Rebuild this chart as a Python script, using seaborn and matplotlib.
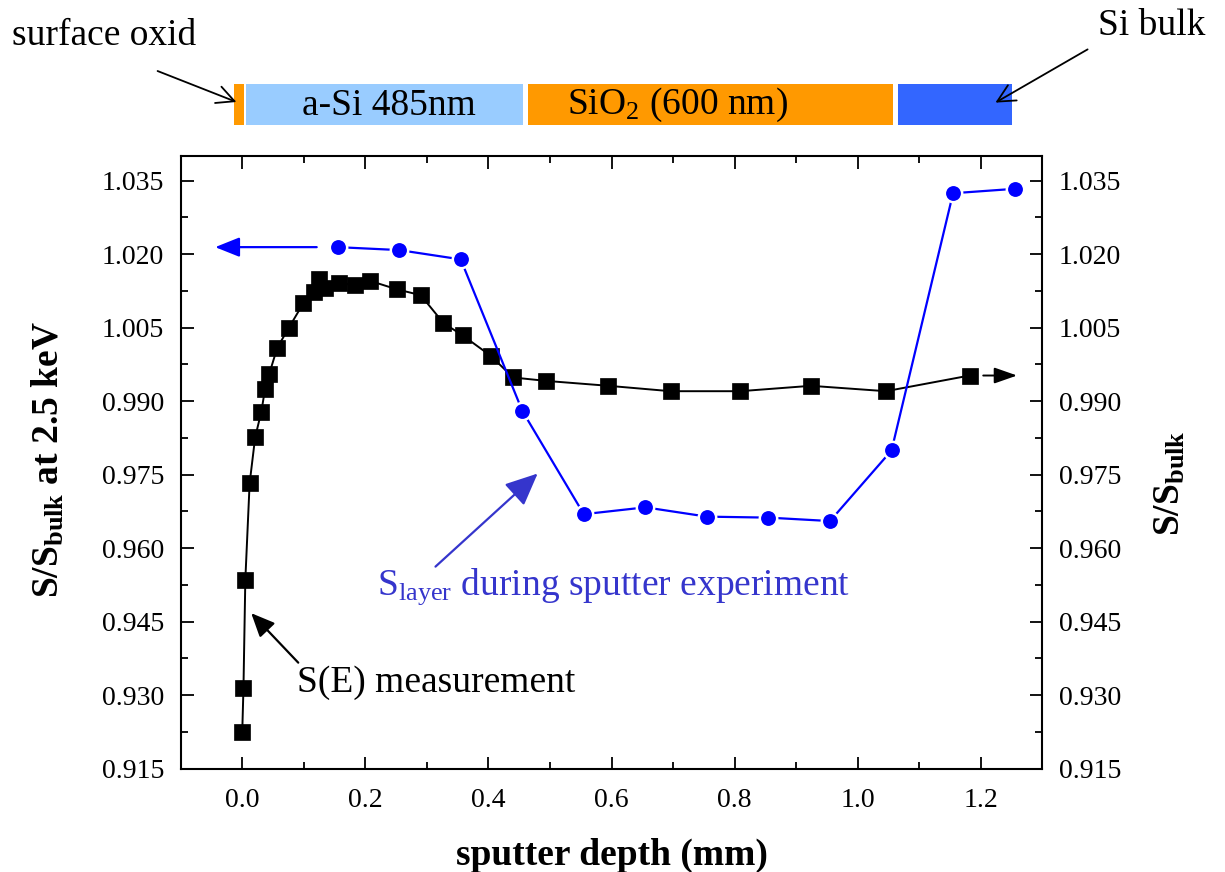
import numpy as np
import matplotlib
matplotlib.use("Agg")
import matplotlib.pyplot as plt
from matplotlib.ticker import MultipleLocator, FormatStrFormatter
import seaborn as sns

# S(E) measurement: sputter depth (µm) vs. normalised S parameter
se_depth = [0.000, 0.002, 0.005, 0.012, 0.021, 0.031, 0.037, 0.044, 0.057, 0.076,
            0.099, 0.117, 0.125, 0.135, 0.158, 0.183, 0.208, 0.251, 0.290, 0.327,
            0.358, 0.404, 0.440, 0.494, 0.595, 0.696, 0.809, 0.924, 1.046, 1.182]
se_value = [0.9224, 0.9315, 0.9535, 0.9732, 0.9826, 0.9878, 0.9924, 0.9956, 1.0009, 1.0050,
            1.0099, 1.0123, 1.0149, 1.0130, 1.0140, 1.0137, 1.0145, 1.0128, 1.0116, 1.0059,
            1.0034, 0.9992, 0.9948, 0.9941, 0.9931, 0.9920, 0.9920, 0.9931, 0.9920, 0.9952]

# S of each layer during the sputter experiment
layer_depth = [0.155, 0.255, 0.355, 0.455, 0.555, 0.655, 0.755, 0.855, 0.955, 1.055, 1.155, 1.255]
layer_value = [1.0214, 1.0208, 1.0189, 0.9880, 0.9669, 0.9683, 0.9664, 0.9662, 0.9655, 0.9799,
               1.0324, 1.0333]

# sample layer stack (µm)
stack_names = ["surface oxid", "a-Si", "SiO2", "Si bulk"]
stack_start = [-0.013, 0.006, 0.464, 1.066]
stack_end = [0.003, 0.457, 1.058, 1.250]
stack_colors = ["#FF9900", "#99CCFF", "#FF9900", "#3366FF"]

y_ticks = [0.915, 0.930, 0.945, 0.960, 0.975, 0.990, 1.005, 1.020, 1.035]
x_ticks = [0.0, 0.2, 0.4, 0.6, 0.8, 1.0, 1.2]

sns.set_theme(style="ticks")
plt.rcParams["font.family"] = ["Liberation Serif", "DejaVu Serif"]
plt.rcParams["mathtext.fontset"] = "custom"
plt.rcParams["mathtext.rm"] = "Liberation Serif"
plt.rcParams["mathtext.it"] = "Liberation Serif:italic"
plt.rcParams["mathtext.bf"] = "Liberation Serif:bold"
plt.rcParams["mathtext.default"] = "regular"
plt.rcParams["text.color"] = "black"
plt.rcParams["axes.labelcolor"] = "black"
plt.rcParams["xtick.color"] = "black"
plt.rcParams["ytick.color"] = "black"

W, H = 1225, 872
fig = plt.figure(figsize=(W / 100, H / 100), dpi=100)
fig.patch.set_facecolor("white")


def fx(px):
    return px / W


def fy(py):
    return 1 - py / H


ax = fig.add_axes([fx(180.7), fy(768.5), (1042.3 - 180.7) / W, (768.5 - 156) / H])
ax.set_facecolor("white")

# S(E) curve (black squares)
sns.lineplot(x=se_depth, y=se_value, ax=ax, color="black", linewidth=1.4,
             marker="s", markersize=11, markeredgecolor="black",
             markeredgewidth=0.5, zorder=3)
# S_layer curve (blue circles)
sns.lineplot(x=layer_depth, y=layer_value, ax=ax, color="#0000FF", linewidth=1.6,
             marker="o", markersize=12.5, markeredgecolor="white",
             markeredgewidth=1.8, zorder=4)

ax.set_xlim(-0.1, 1.3)
ax.set_ylim(0.915, 1.040)
ax.set_xticks(x_ticks)
ax.set_yticks(y_ticks)
ax.xaxis.set_minor_locator(MultipleLocator(0.1))
ax.yaxis.set_minor_locator(MultipleLocator(0.0075))
ax.xaxis.set_major_formatter(FormatStrFormatter("%.1f"))
ax.yaxis.set_major_formatter(FormatStrFormatter("%.3f"))
ax.tick_params(which="both", direction="in", top=True, right=True,
               labelright=True, width=1.3, colors="black", labelcolor="black")
ax.tick_params(which="major", length=9, labelsize=20)
ax.tick_params(axis="x", which="major", pad=14)
ax.tick_params(axis="y", which="major", pad=12)
ax.tick_params(which="minor", length=5)
for sp in ax.spines.values():
    sp.set_visible(True)
    sp.set_linewidth(1.5)
    sp.set_color("black")

ax.set_xlabel("sputter depth (mm)", fontsize=27, fontweight="bold", color="black")
ax.xaxis.set_label_coords(0.5, -0.113)
ax.set_ylabel("S/S$_{bulk}$ at 2.5 keV", fontsize=27, fontweight="bold", color="black")
ax.yaxis.set_label_coords(-0.133, 0.505)
fig.text(fx(1170), fy(483), "S/S$_{bulk}$", rotation=90, fontsize=27,
         fontweight="bold", ha="center", va="center", color="black")

# arrows pointing to the axis each curve belongs to
ax.annotate("", xy=(-0.044, layer_value[0]), xytext=(0.121, layer_value[0]),
            arrowprops=dict(arrowstyle="-|>,head_length=1.0,head_width=0.4",
                            color="#0000FF", lw=1.6, mutation_scale=15,
                            shrinkA=0, shrinkB=0))
ax.annotate("", xy=(1.259, se_value[-1]), xytext=(1.204, se_value[-1]),
            arrowprops=dict(arrowstyle="-|>,head_length=1.0,head_width=0.35",
                            color="black", lw=1.4, mutation_scale=14,
                            shrinkA=0, shrinkB=0))

# curve labels
ax.text(0.089, 0.9307, "S(E) measurement", fontsize=27, color="black",
        ha="left", va="baseline")
ax.annotate("", xy=(0.0146, 0.9467), xytext=(0.091, 0.9366),
            arrowprops=dict(arrowstyle="-|>,head_length=0.9,head_width=0.4",
                            color="black", lw=1.6, mutation_scale=16,
                            shrinkA=0, shrinkB=0))
ax.text(0.219, 0.9504, "S$_{layer}$ during sputter experiment", fontsize=27,
        color="#3535CC", ha="left", va="baseline")
ax.annotate("", xy=(0.480, 0.9752), xytext=(0.314, 0.9562),
            arrowprops=dict(arrowstyle="-|>,head_length=1.0,head_width=0.45",
                            color="#3535CC", lw=1.6, mutation_scale=20,
                            shrinkA=0, shrinkB=0))

# layer stack strip above the plot, on the same depth scale
ax_s = fig.add_axes([fx(180.7), fy(125), (1042.3 - 180.7) / W, 41 / H], sharex=ax)
ax_s.barh([0] * len(stack_start),
          [e - s for s, e in zip(stack_start, stack_end)],
          left=stack_start, height=1.0, color=stack_colors, linewidth=0)
ax_s.set_ylim(-0.5, 0.5)
ax_s.axis("off")
ax_s.text(0.238, -0.02, "a-Si 485nm", fontsize=27, ha="center", va="center",
          color="black")
ax_s.text(0.707, -0.02, "SiO$_2$ (600 nm)", fontsize=27, ha="center", va="center",
          color="black")

# pointers for the outer layers
fig.text(fx(12), fy(45), "surface oxid", fontsize=27, ha="left", va="baseline",
         color="black")
fig.text(fx(1205), fy(35), "Si bulk", fontsize=27, ha="right", va="baseline",
         color="black")
fig.add_artist(matplotlib.patches.FancyArrowPatch(
    (fx(155), fy(70)), (fx(239), fy(103)), transform=fig.transFigure,
    arrowstyle="->,head_length=0.7,head_width=0.35", mutation_scale=18,
    color="black", lw=1.3))
fig.add_artist(matplotlib.patches.FancyArrowPatch(
    (fx(1090), fy(48)), (fx(993), fy(104)), transform=fig.transFigure,
    arrowstyle="->,head_length=0.7,head_width=0.35", mutation_scale=18,
    color="black", lw=1.3))

fig.savefig("out.png", dpi=100, facecolor="white")
